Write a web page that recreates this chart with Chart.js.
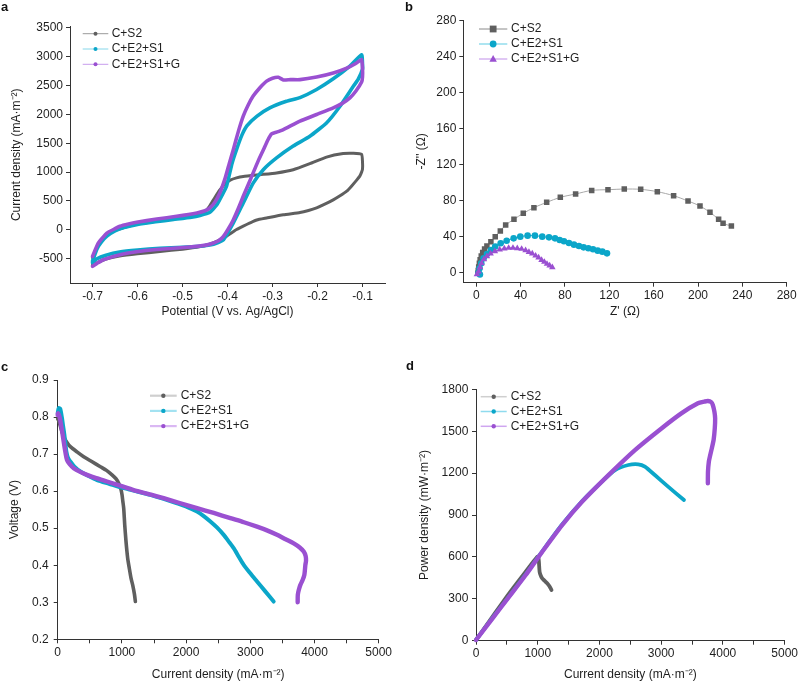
<!DOCTYPE html>
<html>
<head>
<meta charset="utf-8">
<script src="https://cdn.jsdelivr.net/npm/chart.js@4.4.0/dist/chart.umd.min.js"></script>
<style>
  html, body { margin:0; padding:0; background:#fff; }
  #wrap { position:relative; width:800px; height:682px; overflow:hidden; }
  canvas { position:absolute; }
  .tag { position:absolute; font:bold 13px 'Liberation Sans', Arial, sans-serif; color:#111; line-height:14px; }
</style>
</head>
<body>
<div id="wrap">
  <canvas id="ca" width="400" height="330" style="left:0;top:0"></canvas>
  <canvas id="cb" width="400" height="330" style="left:400px;top:0"></canvas>
  <canvas id="cc" width="400" height="352" style="left:0;top:330px"></canvas>
  <canvas id="cd" width="400" height="352" style="left:400px;top:330px"></canvas>
  <div class="tag" style="left:1px;top:0">a</div>
  <div class="tag" style="left:405px;top:0">b</div>
  <div class="tag" style="left:1px;top:360px">c</div>
  <div class="tag" style="left:406px;top:359px">d</div>
</div>
<script>
const FONT = "'Liberation Sans', Arial, sans-serif";
const names = ['C+S2', 'C+E2+S1', 'C+E2+S1+G'];

// --- a: cyclic voltammetry, potential (V) / current density (mA m-2)
const cvS2V = [-0.700,-0.690,-0.680,-0.668,-0.650,-0.630,-0.600,-0.560,-0.520,-0.480,-0.461,-0.450,-0.439,-0.428,-0.417,-0.405,-0.394,-0.380,-0.365,-0.328,-0.291,-0.254,-0.217,-0.180,-0.143,-0.120,-0.102,-0.100,-0.100,
  -0.102,-0.106,-0.113,-0.124,-0.135,-0.150,-0.165,-0.185,-0.202,-0.220,-0.239,-0.276,-0.313,-0.335,-0.350,-0.365,-0.380,-0.402,-0.424,-0.440,-0.460,-0.500,-0.550,-0.600,-0.640,-0.670,-0.690,-0.700];
const cvS2J = [-480,-300,-180,-90,-10,40,100,150,190,230,270,310,420,560,690,800,860,900,925,955,985,1040,1145,1260,1320,1325,1305,1180,1050,
  1000,930,860,760,670,590,520,440,380,335,300,262,205,170,120,65,5,-110,-200,-250,-290,-335,-375,-415,-455,-505,-570,-610];

const cvE2S1V = [-0.700,-0.690,-0.680,-0.668,-0.650,-0.630,-0.600,-0.560,-0.520,-0.480,-0.461,-0.440,-0.424,-0.412,-0.402,-0.390,-0.380,-0.368,-0.357,-0.335,-0.306,-0.269,-0.239,-0.202,-0.165,-0.128,-0.102,-0.100,-0.100,
  -0.110,-0.120,-0.150,-0.180,-0.217,-0.254,-0.291,-0.320,-0.343,-0.365,-0.387,-0.409,-0.431,-0.461,-0.500,-0.550,-0.600,-0.640,-0.670,-0.690,-0.700];
const cvE2S1J = [-540,-330,-210,-110,-20,40,95,140,180,220,250,300,430,600,760,1150,1390,1640,1800,1965,2110,2225,2290,2430,2615,2835,3030,2870,2780,
  2600,2490,2140,1850,1620,1450,1245,1045,810,465,120,-170,-250,-285,-300,-320,-350,-385,-440,-500,-570];

const cvGV = [-0.700,-0.687,-0.668,-0.650,-0.639,-0.620,-0.602,-0.557,-0.513,-0.468,-0.450,-0.439,-0.428,-0.417,-0.405,-0.396,-0.387,-0.376,-0.365,-0.354,-0.343,-0.328,-0.313,-0.300,-0.287,-0.276,-0.260,-0.239,-0.202,-0.165,-0.135,-0.115,-0.102,-0.100,-0.100,
  -0.102,-0.115,-0.128,-0.145,-0.165,-0.202,-0.239,-0.276,-0.291,-0.302,-0.310,-0.320,-0.332,-0.343,-0.354,-0.365,-0.376,-0.387,-0.398,-0.409,-0.420,-0.431,-0.445,-0.468,-0.513,-0.557,-0.602,-0.639,-0.676,-0.690,-0.700];
const cvGJ = [-460,-228,-55,20,61,100,130,188,234,292,330,379,480,639,900,1150,1390,1700,1968,2160,2315,2460,2575,2625,2640,2595,2600,2600,2645,2715,2800,2880,2950,2800,2650,
  2560,2400,2286,2190,2113,1997,1882,1737,1691,1662,1560,1390,1190,986,780,581,370,176,20,-113,-190,-228,-260,-286,-315,-340,-380,-430,-517,-580,-630];

const aTicksX = [-0.7,-0.6,-0.5,-0.4,-0.3,-0.2,-0.1];
const aTicksY = [-500,0,500,1000,1500,2000,2500,3000,3500];

// --- b: Nyquist plot, Z' / -Z'' (ohm)
const eisS2Re = [1.5,1.8,2.2,2.8,3.5,4.5,5.8,7.5,9.6,13.2,17.1,21.7,26.5,34.0,42.4,52.0,63.5,75.8,89.6,104.1,118.8,133.5,148.3,163.3,178.0,191.0,201.8,210.8,218.6,222.6,230.1];
const eisS2Im = [-1.0,2.0,6.0,10.0,14.0,18.0,22.0,26.0,29.3,34.1,39.7,46.0,52.7,59.0,65.7,72.0,77.9,83.5,87.2,91.2,92.0,92.7,92.4,89.8,85.3,79.4,73.8,66.8,59.0,54.5,51.6];
const eisE2S1Re = [3.3,2.1,3.0,4.5,6.6,9.6,13.2,17.1,22.0,27.4,33.7,39.7,46.3,52.9,59.5,65.6,71.0,75.2,79.1,83.6,88.1,92.6,96.8,101.1,105.3,109.5,113.7,117.9];
const eisE2S1Im = [-2.5,-0.4,4.5,10.0,15.6,20.4,24.9,28.6,32.3,35.2,37.8,39.7,40.8,40.8,39.7,38.9,37.8,36.0,34.5,32.6,30.8,29.3,27.8,26.7,25.6,24.1,23.0,21.1];
const eisGRe = [0.6,2.1,3.3,4.8,6.9,9.6,12.9,16.8,21.1,25.3,29.2,33.1,37.0,40.9,44.5,47.5,50.5,53.5,56.2,58.9,61.4,63.8,66.2,68.6];
const eisGIm = [-2.2,0.7,5.6,10.0,14.5,17.8,20.8,23.4,25.2,26.3,27.1,27.1,26.7,26.0,24.5,22.6,20.8,18.5,16.3,13.7,11.5,9.3,7.4,5.6];

const bTicks = [0,40,80,120,160,200,240,280];

// --- c: polarisation, current density (mA m-2) / voltage (V)
const polS2I = [0,16,50,93,150,197,300,405,530,665,760,846,910,950,985,1002,1015,1028,1044,1064,1090,1115,1142,1170,1195,1210];
const polS2U = [0.795,0.790,0.770,0.747,0.730,0.720,0.706,0.693,0.680,0.666,0.656,0.644,0.633,0.621,0.605,0.590,0.572,0.554,0.509,0.464,0.419,0.392,0.365,0.345,0.322,0.302];
const polE2S1I = [0,16,40,67,85,104,120,135,160,197,260,353,480,613,800,1028,1240,1443,1650,1859,2020,2170,2280,2378,2480,2586,2660,2741,2820,2897,3000,3105,3230,3364];
const polE2S1U = [0.810,0.824,0.822,0.797,0.775,0.752,0.728,0.707,0.690,0.680,0.666,0.653,0.641,0.630,0.620,0.608,0.599,0.590,0.579,0.567,0.557,0.545,0.532,0.518,0.502,0.482,0.465,0.446,0.423,0.401,0.378,0.356,0.330,0.302];
const polGI = [0,5,30,52,75,93,120,145,190,249,350,457,600,768,970,1184,1420,1651,1900,2170,2430,2690,2900,3105,3260,3416,3550,3676,3770,3832,3862,3868,3858,3842,3815,3780,3755,3740,3738];
const polGU = [0.805,0.810,0.800,0.779,0.755,0.734,0.705,0.684,0.672,0.662,0.652,0.644,0.635,0.626,0.615,0.603,0.592,0.581,0.568,0.554,0.541,0.527,0.516,0.504,0.494,0.482,0.470,0.459,0.448,0.437,0.425,0.412,0.401,0.374,0.360,0.347,0.333,0.320,0.300];

const cdTicksX = [0,500,1000,1500,2000,2500,3000,3500,4000,4500,5000];
const cTicksY = [0.2,0.3,0.4,0.5,0.6,0.7,0.8,0.9];

// --- d: power density (mW m-2)
const powS2I = [0,268,537,805,993,1010,1019,1030,1050,1073,1110,1153,1190,1223];
const powS2P = [5,172,339,494,601,595,566,494,465,446,430,411,390,363];
const powE2S1I = [0,268,537,805,1073,1395,1717,2039,2253,2468,2629,2736,2897,3112,3369];
const powE2S1P = [5,163,318,475,640,832,998,1139,1222,1258,1263,1246,1186,1103,1007];
const powGI = [0,268,537,805,1073,1395,1717,2146,2575,3004,3326,3595,3700,3756,3810,3836,3862,3874,3868,3850,3820,3790,3772,3758,3756];
const powGP = [5,160,315,470,637,828,995,1186,1365,1520,1628,1700,1712,1716,1708,1688,1640,1592,1520,1440,1377,1320,1282,1210,1127];

const dTicksY = [0,300,600,900,1200,1500,1800];

const GRAY = '#5f5f5f', CYAN = '#0ba6c9', PURPLE = '#9a50d1';

function pts(xs, ys) { return xs.map((x, i) => ({ x: x, y: ys[i] })); }

// legend: short light line with a dark marker in the middle, then the label
const lineLegend = {
  id: 'lineLegend',
  afterDraw(chart, args, o) {
    const ctx = chart.ctx;
    ctx.save();
    ctx.font = '12px ' + FONT;
    ctx.textBaseline = 'middle';
    chart.data.datasets.forEach((ds, i) => {
      const y = o.y + i * o.gap;
      ctx.strokeStyle = ds.legendLine;
      ctx.lineWidth = o.lw;
      ctx.beginPath(); ctx.moveTo(o.x, y); ctx.lineTo(o.x + o.len, y); ctx.stroke();
      const mx = o.x + o.len / 2, r = o.r;
      ctx.fillStyle = ds.legendDot;
      ctx.beginPath();
      const st = ds.pointStyle || 'circle';
      if (st === 'rect') ctx.rect(mx - r, y - r, 2 * r, 2 * r);
      else if (st === 'triangle') { ctx.moveTo(mx, y - r * 1.15); ctx.lineTo(mx + r * 1.1, y + r * 0.8); ctx.lineTo(mx - r * 1.1, y + r * 0.8); ctx.closePath(); }
      else ctx.arc(mx, y, r, 0, Math.PI * 2);
      ctx.fill();
      ctx.fillStyle = '#1e1e1e';
      ctx.fillText(ds.label, o.x + o.len + o.tg, y);
    });
    ctx.restore();
  }
};

function axis(o) {
  return {
    type: 'linear', min: o.min, max: o.max,
    afterFit: s => { if (s.isHorizontal()) s.height = o.size; else s.width = o.size; },
    afterBuildTicks: s => { s.ticks = o.ticks.map(v => ({ value: v })); },
    border: { display: true, color: '#333', width: 1 },
    grid: { drawOnChartArea: false, drawTicks: true, tickLength: 4, color: '#333', lineWidth: 1 },
    ticks: { color: '#1e1e1e', font: { family: FONT, size: 12 }, padding: o.pad, autoSkip: false, maxRotation: 0, callback: o.fmt },
    title: { display: true, text: o.title, color: '#1e1e1e', font: { family: FONT, size: 12, lineHeight: 1.2 }, padding: o.tpad }
  };
}

function make(id, datasets, pad, x, y, leg) {
  return new Chart(document.getElementById(id), {
    type: 'scatter',
    data: { datasets: datasets },
    options: {
      responsive: false, animation: false,
      layout: { padding: pad },
      plugins: { legend: { display: false }, tooltip: { enabled: false }, lineLegend: leg },
      scales: { x: axis(x), y: axis(y) }
    },
    plugins: [lineLegend]
  });
}

function curve(label, xs, ys, color, width, order, legendLine, tension) {
  return { label: label, data: pts(xs, ys), showLine: true, borderColor: color, borderWidth: width,
    pointRadius: 0, tension: tension, borderCapStyle: 'round', borderJoinStyle: 'round', clip: 8,
    order: order, legendLine: legendLine, legendDot: color };
}

// a
make('ca', [
  curve(names[0], cvS2V, cvS2J, GRAY, 3, 2, '#9a9a9a', 0.15),
  curve(names[1], cvE2S1V, cvE2S1J, CYAN, 3.6, 1, '#86d7ea', 0.15),
  curve(names[2], cvGV, cvGJ, PURPLE, 3.6, 0, '#c79ded', 0.15)
], { left: 0, top: 26.5, right: 15, bottom: 0 },
  { min: -0.75, max: -0.05, ticks: aTicksX, size: 47, pad: 2, fmt: v => v.toFixed(1), title: 'Potential (V vs. Ag/AgCl)', tpad: { bottom: 10.8 } },
  { min: -920, max: 3520, ticks: aTicksY, size: 70, pad: 3, fmt: v => String(v), title: 'Current density (mA·m⁻²)', tpad: { top: 9.8 } },
  { x: 82.7, y: 33.7, gap: 15.3, len: 25.6, tg: 3.4, lw: 1, r: 2 });

// b
function marks(label, xs, ys, color, style, r, line, order, legendLine) {
  return { label: label, data: pts(xs, ys), showLine: true, borderColor: line, borderWidth: 1, tension: 0.3,
    pointStyle: style, pointRadius: r, pointBackgroundColor: color, pointBorderWidth: 0, clip: 8,
    order: order, legendLine: legendLine, legendDot: color };
}
make('cb', [
  marks(names[0], eisS2Re, eisS2Im, GRAY, 'rect', 3.9, '#a8a8a8', 2, '#8a8a8a'),
  marks(names[1], eisE2S1Re, eisE2S1Im, CYAN, 'circle', 3.3, CYAN, 1, '#5ccbe3'),
  marks(names[2], eisGRe, eisGIm, PURPLE, 'triangle', 3.8, PURPLE, 0, '#c08fe9')
], { left: 0, top: 20, right: 13.3, bottom: 0 },
  { min: -11.7, max: 280, ticks: bTicks, size: 47.3, pad: 2, fmt: v => String(v), title: "Z' (Ω)", tpad: { bottom: 10.8 } },
  { min: -11.6, max: 281, ticks: bTicks, size: 63.3, pad: 3, fmt: v => String(v), title: "-Z'' (Ω)", tpad: { top: 14.5 } },
  { x: 79, y: 29, gap: 15, len: 28.3, tg: 3.7, lw: 1, r: 3.4 });

// c
make('cc', [
  curve(names[0], polS2I, polS2U, GRAY, 3.6, 2, '#cfcfcf', 0.25),
  curve(names[1], polE2S1I, polE2S1U, CYAN, 4, 1, '#a3e2f1', 0.25),
  curve(names[2], polGI, polGU, PURPLE, 4.4, 0, '#dab8f3', 0.25)
], { left: 0, top: 50, right: 21.3, bottom: 0 },
  { min: 0, max: 5000, ticks: cdTicksX, size: 42.7, pad: 2, fmt: v => (v % 1000 === 0 ? String(v) : ''), title: 'Current density (mA·m⁻²)', tpad: { bottom: 0 } },
  { min: 0.2, max: 0.9, ticks: cTicksY, size: 57.7, pad: 5, fmt: v => v.toFixed(1), title: 'Voltage (V)', tpad: { top: 7.8 } },
  { x: 150, y: 65.7, gap: 15.2, len: 26.7, tg: 4, lw: 2.2, r: 2.2 });

// d
make('cd', [
  curve(names[0], powS2I, powS2P, GRAY, 3.8, 2, '#cfcfcf', 0.25),
  curve(names[1], powE2S1I, powE2S1P, CYAN, 3.8, 1, '#8fdbee', 0.25),
  curve(names[2], powGI, powGP, PURPLE, 4.4, 0, '#cfa6f0', 0.25)
], { left: 0, top: 59.3, right: 13.3, bottom: 0 },
  { min: 0, max: 5000, ticks: cdTicksX, size: 41.3, pad: 2, fmt: v => (v % 1000 === 0 ? String(v) : ''), title: 'Current density (mA·m⁻²)', tpad: { bottom: 0 } },
  { min: 0, max: 1800, ticks: dTicksY, size: 76, pad: 3.7, fmt: v => String(v), title: 'Power density (mW·m⁻²)', tpad: { top: 17.8 } },
  { x: 80.7, y: 66.7, gap: 14.8, len: 26, tg: 4, lw: 1.5, r: 2.2 });
</script>
</body>
</html>
